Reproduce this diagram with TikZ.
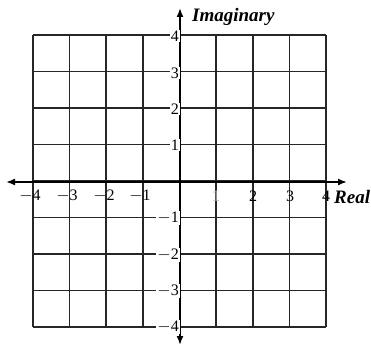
\documentclass[tikz,border=0pt]{standalone}
\usepackage{fontspec}
\setmainfont{Liberation Serif}
\usetikzlibrary{arrows.meta}
\begin{document}
\begin{tikzpicture}[x=1pt,y=-1pt,
  gridline/.style={line width=1.7pt,black!85},
  axisline/.style={line width=1.7pt,black,{Latex[length=9pt,width=7pt]}-{Latex[length=9pt,width=7pt]}},
  ticklab/.style={font=\fontsize{16}{16}\selectfont,inner sep=0.5pt},
  ylab/.style={ticklab,anchor=east,fill=white,inner sep=1pt},
  axlab/.style={font=\fontsize{19}{19}\selectfont\bfseries\itshape,inner sep=0pt}]
\useasboundingbox (0,0) rectangle (371,353);
% grid
\foreach \i in {0,...,8} {
  \draw[gridline] ({33+36.625*\i},35) -- ({33+36.625*\i},327);
  \draw[gridline] (33,{35+36.5*\i}) -- (326,{35+36.5*\i});
}
% axes
\coordinate (xl) at (6,182);
\coordinate (xr) at (347,182);
\coordinate (yt) at (180,8);
\coordinate (yb) at (180,345);
\draw[axisline] (xl) -- (xr);
\draw[axisline] (yb) -- (yt);
% x labels
\node[ticklab] (xm4) at (30,196) {$-$4};
\node[ticklab] (xm3) at (67,196) {$-$3};
\node[ticklab] (xm2) at (104,196) {$-$2};
\node[ticklab] (xm1) at (140,196) {$-$1};
\node[ticklab,text=black!40] (x1) at (216,196) {1};
\node[ticklab] (x2) at (253,196) {2};
\node[ticklab] (x3) at (290,196) {3};
\node[ticklab] (x4) at (326,196) {4};
% y labels
\node[ylab] (y4) at (180,36) {4};
\node[ylab] (y3) at (180,73) {3};
\node[ylab] (y2) at (180,109) {2};
\node[ylab] (y1) at (180,145) {1};
\node[ylab] (ym1) at (180,218) {$-$1};
\node[ylab] (ym2) at (180,255) {$-$2};
\node[ylab] (ym3) at (180,291) {$-$3};
\node[ylab] (ym4) at (180,327) {$-$4};
% axis names
\node[axlab,anchor=west] (im) at (192,17) {Imaginary};
\node[axlab,anchor=west] (re) at (334,197) {Real};
\end{tikzpicture}
\end{document}
